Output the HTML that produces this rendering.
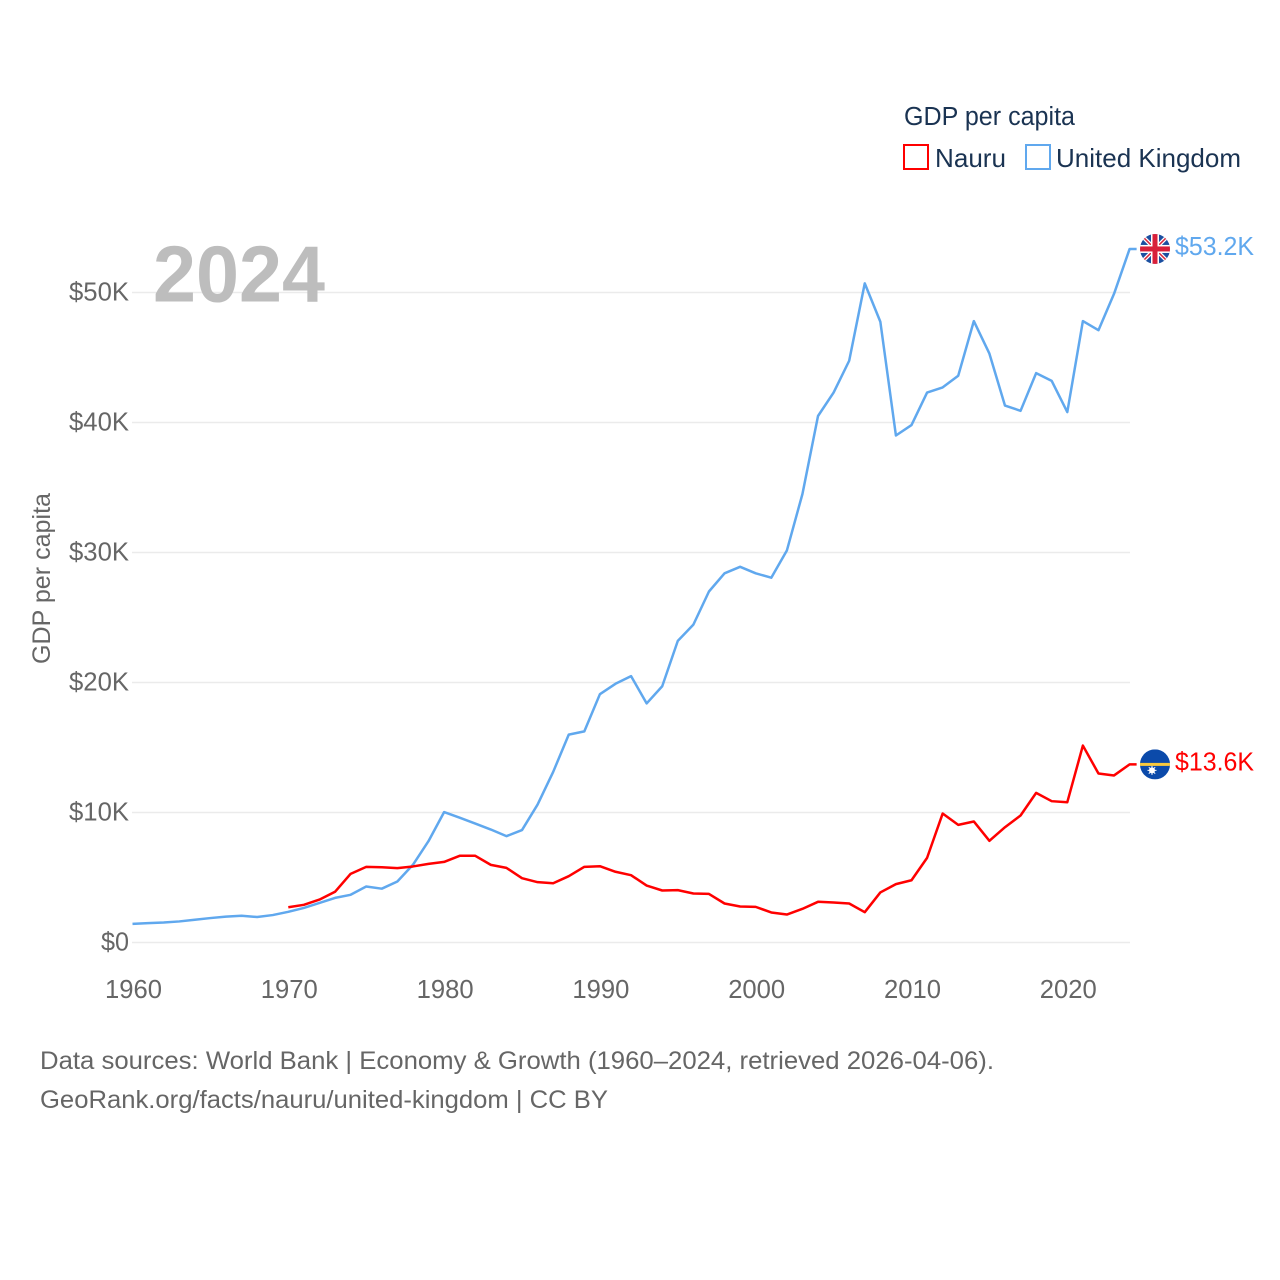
<!DOCTYPE html>
<html lang="en">
<head>
<meta charset="utf-8">
<title>GDP per capita: Nauru and United Kingdom</title>
<style>
html,body{margin:0;padding:0;background:#fff;width:1280px;height:1280px;overflow:hidden}
svg{display:block}
text{font-family:"Liberation Sans",sans-serif}
</style>
</head>
<body>
<svg id="chart" xmlns="http://www.w3.org/2000/svg" width="1280" height="1280" viewBox="0 0 1280 1280">
  <defs>
    <clipPath id="flag-clip"><circle cx="0" cy="0" r="15"/></clipPath>
  </defs>
  <rect width="1280" height="1280" fill="#fff"/>
  <g id="grid"></g>
  <text x="153" y="301.5" font-size="80" font-weight="700" fill="#bdbdbd" textLength="172" lengthAdjust="spacingAndGlyphs">2024</text>
  <g id="yticks"></g>
  <g id="xticks"></g>
  <text transform="translate(50,664) rotate(-90)" font-size="25" fill="#666" textLength="171" lengthAdjust="spacingAndGlyphs">GDP per capita</text>
  <g id="series"></g>

  <g id="flag-uk">
    <g clip-path="url(#flag-clip)">
      <rect x="-15" y="-15" width="30" height="30" fill="#1b4fa0"/>
      <path d="M-15-15L15 15M15-15L-15 15" stroke="#fff" stroke-width="4"/>
      <path d="M-15-15L15 15M15-15L-15 15" stroke="#d8283c" stroke-width="1.5"/>
      <rect x="-15" y="-4" width="30" height="8" fill="#fff"/>
      <rect x="-4" y="-15" width="8" height="30" fill="#fff"/>
      <rect x="-15" y="-2.5" width="30" height="5" fill="#d8203a"/>
      <rect x="-2.5" y="-15" width="5" height="30" fill="#d8203a"/>
    </g>
  </g>
  <g id="flag-nauru">
    <g clip-path="url(#flag-clip)">
      <rect x="-15" y="-15" width="30" height="30" fill="#0b4aaa"/>
      <rect x="-15" y="-1.5" width="30" height="3" fill="#f7c93e"/>
      <circle cx="-3" cy="6" r="3" fill="#fff"/>
      <path d="M-3 1.5V10.5M-7.5 6H1.5M-6.2 2.8L0.2 9.2M0.2 2.8L-6.2 9.2" stroke="#fff" stroke-width="1"/>
    </g>
  </g>
  <text id="label-uk" x="1175" font-size="26" fill="#60a8ee" textLength="79" lengthAdjust="spacingAndGlyphs"></text>
  <text id="label-nauru" x="1175" font-size="26" fill="#ff0000" textLength="79" lengthAdjust="spacingAndGlyphs"></text>

  <g>
    <text x="904" y="125" font-size="25.5" fill="#1a3352" textLength="171" lengthAdjust="spacingAndGlyphs">GDP per capita</text>
    <g>
      <rect x="904" y="145" width="24" height="24" fill="none" stroke="#ff0000" stroke-width="2"/>
      <text x="935" y="167" font-size="26" fill="#1a3352" textLength="71" lengthAdjust="spacingAndGlyphs">Nauru</text>
    </g>
    <g>
      <rect x="1026" y="145" width="24" height="24" fill="none" stroke="#60a8ee" stroke-width="2"/>
      <text x="1056" y="167" font-size="26" fill="#1a3352" textLength="185" lengthAdjust="spacingAndGlyphs">United Kingdom</text>
    </g>
  </g>

  <text x="40" y="1069" font-size="25" fill="#666" textLength="954" lengthAdjust="spacingAndGlyphs">Data sources: World Bank | Economy &amp; Growth (1960–2024, retrieved 2026-04-06).</text>
  <text x="40" y="1108" font-size="25" fill="#666" textLength="568" lengthAdjust="spacingAndGlyphs">GeoRank.org/facts/nauru/united-kingdom | CC BY</text>
</svg>
<script>
const years = [];
for (let yr = 1960; yr <= 2024; yr++) years.push(yr);
const yTickValues = [0, 10000, 20000, 30000, 40000, 50000];
const yTickLabels = ["$0", "$10K", "$20K", "$30K", "$40K", "$50K"];
const xTickYears = [1960, 1970, 1980, 1990, 2000, 2010, 2020];
const xTickLabels = ["1960", "1970", "1980", "1990", "2000", "2010", "2020"];
const ukValues = [1430, 1490, 1540, 1620, 1750, 1880, 1990, 2060, 1960, 2110,
  2360, 2660, 3040, 3430, 3670, 4310, 4140, 4690, 5980, 7800,
  10030, 9600, 9150, 8690, 8180, 8650, 10610, 13120, 15990, 16240,
  19100, 19900, 20490, 18390, 19710, 23200, 24450, 27000, 28400, 28900,
  28400, 28060, 30150, 34500, 40500, 42300, 44750, 50700, 47750, 39000,
  39800, 42300, 42700, 43600, 47800, 45300, 41300, 40900, 43800, 43200,
  40800, 47800, 47100, 49900, 53350];
const nauruYears = [1970, 1971, 1972, 1973, 1974, 1975, 1976, 1977, 1978, 1979,
  1980, 1981, 1982, 1983, 1984, 1985, 1986, 1987, 1988, 1989,
  1990, 1991, 1992, 1993, 1994, 1995, 1996, 1997, 1998, 1999,
  2000, 2001, 2002, 2003, 2004, 2005, 2006, 2007, 2008, 2009,
  2010, 2011, 2012, 2013, 2014, 2015, 2016, 2017, 2018, 2019,
  2020, 2021, 2022, 2023, 2024];
const nauruValues = [2710, 2900, 3300, 3900, 5280, 5820, 5790, 5720, 5850, 6050,
  6200, 6670, 6670, 5970, 5740, 4950, 4640, 4560, 5100, 5820,
  5870, 5440, 5180, 4380, 4000, 4030, 3770, 3740, 3000, 2770,
  2740, 2310, 2150, 2590, 3130, 3080, 3000, 2330, 3850, 4490,
  4790, 6510, 9920, 9050, 9310, 7820, 8870, 9770, 11510, 10870,
  10790, 15150, 13000, 12850, 13700];
const ukEndLabel = "$53.2K";
const nauruEndLabel = "$13.6K";

const SVG_NS = "http://www.w3.org/2000/svg";
const xScale = function (year) { return 132.5 + (year - 1960) * 15.58; };
const yScale = function (value) { return 942.5 - value * 0.013; };
const flagX = 1155;

function make(tag, parentId) {
  const el = document.createElementNS(SVG_NS, tag);
  document.getElementById(parentId).appendChild(el);
  return el;
}

yTickValues.forEach(function (value, i) {
  const line = make("line", "grid");
  
  
  line.setAttribute("x1", 132);
  line.setAttribute("x2", 1130);
  line.setAttribute("y1", yScale(value));
  line.setAttribute("y2", yScale(value));
  line.setAttribute("stroke", "#ebebeb");
  line.setAttribute("stroke-width", 1.5);

  const label = make("text", "yticks");
  
  
  label.setAttribute("x", 129);
  label.setAttribute("y", yScale(value) + 8);
  label.setAttribute("text-anchor", "end");
  label.setAttribute("font-size", 26);
  label.setAttribute("fill", "#666");
  label.setAttribute("textLength", yTickLabels[i].length === 2 ? 28 : 60);
  label.setAttribute("lengthAdjust", "spacingAndGlyphs");
  label.textContent = yTickLabels[i];
});

xTickYears.forEach(function (year, i) {
  const label = make("text", "xticks");
  
  
  label.setAttribute("x", xScale(year) + 1);
  label.setAttribute("y", 998);
  label.setAttribute("text-anchor", "middle");
  label.setAttribute("font-size", 26);
  label.setAttribute("fill", "#666");
  label.setAttribute("textLength", 57);
  label.setAttribute("lengthAdjust", "spacingAndGlyphs");
  label.textContent = xTickLabels[i];
});

function linePoints(xs, values) {
  const pts = xs.map(function (year, i) {
    return xScale(year).toFixed(2) + "," + yScale(values[i]).toFixed(2);
  });
  pts.push((xScale(xs[xs.length - 1]) + 7).toFixed(2) + "," + yScale(values[values.length - 1]).toFixed(2));
  return pts.join(" ");
}

const ukLine = make("polyline", "series");


ukLine.setAttribute("points", linePoints(years, ukValues));
ukLine.setAttribute("fill", "none");
ukLine.setAttribute("stroke", "#60a8ee");
ukLine.setAttribute("stroke-width", 2.5);
ukLine.setAttribute("stroke-linejoin", "round");

const nauruLine = make("polyline", "series");


nauruLine.setAttribute("points", linePoints(nauruYears, nauruValues));
nauruLine.setAttribute("fill", "none");
nauruLine.setAttribute("stroke", "#ff0000");
nauruLine.setAttribute("stroke-width", 2.5);
nauruLine.setAttribute("stroke-linejoin", "round");

const ukEndY = yScale(ukValues[ukValues.length - 1]);
const nauruEndY = yScale(nauruValues[nauruValues.length - 1]);
document.getElementById("flag-uk").setAttribute("transform", "translate(" + flagX + "," + ukEndY + ")");
document.getElementById("flag-nauru").setAttribute("transform", "translate(" + flagX + "," + nauruEndY + ")");
const ukLabel = document.getElementById("label-uk");
ukLabel.setAttribute("y", ukEndY + 6);
ukLabel.textContent = ukEndLabel;
const nauruLabel = document.getElementById("label-nauru");
nauruLabel.setAttribute("y", nauruEndY + 6);
nauruLabel.textContent = nauruEndLabel;
</script>
</body>
</html>
